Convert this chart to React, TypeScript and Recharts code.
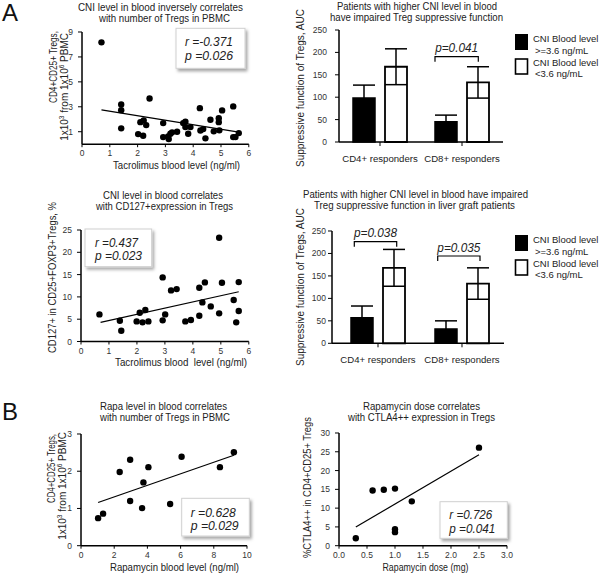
import React from "react";
import {
  ScatterChart,
  Scatter,
  BarChart,
  Bar,
  ErrorBar,
  XAxis,
  YAxis,
  ReferenceLine,
} from "recharts";

const FONT = '"Liberation Sans", Arial, Helvetica, sans-serif';

// A, top left: tacrolimus level vs Treg count
const tacroA1 = [0.7, 1.41, 1.41, 1.41, 2.43, 2.02, 2.1, 2.22, 2.31, 2.2, 2.92, 2.92, 3.1, 3.12, 3.18, 3.24, 3.42, 3.64, 3.72, 3.72, 3.9, 3.82, 4.24, 4.26, 4.36, 4.44, 4.62, 4.74, 4.92, 4.92, 4.94, 5.04, 5.44, 5.44, 5.52, 5.64];
const tregsA1 = [8.17, 3.19, 2.73, 1.27, 3.67, 0.81, 1.77, 1.91, 1.53, 0.68, 1.69, 0.57, 0.63, 0.41, 0.84, 0.95, 1.0, 1.69, 1.8, 1.37, 1.37, 0.84, 2.89, 1.1, 1.21, 0.47, 1.96, 1.03, 2.09, 1.77, 1.11, 2.71, 3.03, 0.57, 0.57, 0.89];
const trendA1 = [[0.7, 2.76], [5.64, 0.97]];

// A, middle left: tacrolimus level vs CD127+
const tacroA2 = [0.66, 1.39, 1.44, 1.99, 2.1, 2.2, 2.3, 2.41, 2.92, 2.92, 3.01, 3.22, 3.42, 3.73, 3.93, 4.23, 4.23, 4.34, 4.43, 4.64, 4.94, 4.94, 5.04, 5.46, 5.55, 5.64, 5.64];
const cd127A2 = [6.08, 4.66, 2.42, 4.51, 6.46, 4.29, 7.05, 4.51, 14.37, 4.74, 6.08, 11.46, 11.75, 4.51, 4.81, 12.05, 5.78, 8.77, 13.25, 7.87, 23.25, 6.31, 13.17, 9.29, 4.29, 13.32, 6.83];
const trendA2 = [[0.7, 4.29], [5.64, 11.16]];

// A, bar charts
const responders = ["CD4+ responders", "CD8+ responders"];
const highCni1 = [98, 45];
const highCniErr1 = [29, 15];
const lowCni1 = [168, 133];
const lowCniErr1 = [40, 35];
const highCni2 = [57, 32];
const highCniErr2 = [26, 18];
const lowCni2 = [168, 133];
const lowCniErr2 = [41, 35];

// B, left: rapamycin level vs Treg count
const rapaLevelB1 = [1.03, 1.33, 2.33, 2.96, 2.96, 3.68, 3.76, 4.06, 5.37, 6.06, 8.37, 9.21];
const tregsB1 = [0.74, 0.86, 1.98, 2.31, 1.2, 1.01, 1.7, 2.11, 1.12, 2.39, 2.11, 2.51];
const trendB1 = [[1.03, 1.16], [9.21, 2.43]];

// B, right: rapamycin dose vs CTLA4++
const rapaDoseB2 = [0.3, 0.6, 0.8, 1.0, 1.0, 1.0, 1.3, 2.5];
const ctla4B2 = [2.0, 14.7, 14.9, 15.2, 4.4, 3.6, 11.8, 26.1];
const trendB2 = [[0.3, 4.97], [2.5, 24.2]];

const zip = (xs: number[], ys: number[]) => xs.map((x, i) => ({ x, y: ys[i] }));

const barRows = (hi: number[], hiE: number[], lo: number[], loE: number[]) =>
  responders.map((name, i) => ({ name, high: hi[i], highErr: hiE[i], low: lo[i], lowErr: loE[i] }));

const Dot = (props: any) => <circle cx={props.cx} cy={props.cy} r={3.2} fill="#000" />;

const tickStyle = { fill: "#333", fontSize: 8.5 };

function ScatterPanel(props: any) {
  const { left, top, width, height, xDomain, xTicks, yDomain, yTicks, points, trend, xFmt } = props;
  const ML = 34, MT = 6, MR = 8, MB = 22;
  return (
    <div style={{ position: "absolute", left: left - ML, top: top - MT }}>
      <ScatterChart
        width={ML + width + MR}
        height={MT + height + MB}
        margin={{ top: MT, right: MR, left: 0, bottom: 0 }}
      >
        <XAxis
          type="number"
          dataKey="x"
          domain={xDomain}
          ticks={xTicks}
          height={MB}
          interval={0}
          tickFormatter={xFmt}
          tickSize={3}
          tickMargin={3}
          tick={tickStyle}
          axisLine={{ stroke: "#000", strokeWidth: 1.5 }}
          tickLine={{ stroke: "#000" }}
        />
        <YAxis
          type="number"
          dataKey="y"
          domain={yDomain}
          ticks={yTicks}
          width={ML}
          interval={0}
          tickSize={4}
          tickMargin={5}
          tick={tickStyle}
          axisLine={{ stroke: "#000", strokeWidth: 1.5 }}
          tickLine={{ stroke: "#000" }}
        />
        <ReferenceLine
          segment={[
            { x: trend[0][0], y: trend[0][1] },
            { x: trend[1][0], y: trend[1][1] },
          ]}
          stroke="#000"
          strokeWidth={1.2}
        />
        <Scatter data={points} shape={Dot} isAnimationActive={false} />
      </ScatterChart>
    </div>
  );
}

function BarPanel(props: any) {
  const { left, top, width, height, rows, padLeft, yTickMargin } = props;
  const ML = 40, MT = 6, MR = 4, MB = 30;
  return (
    <div style={{ position: "absolute", left: left - ML, top: top - MT }}>
      <BarChart
        width={ML + width + MR}
        height={MT + height + MB}
        data={rows}
        margin={{ top: MT, right: MR, left: 0, bottom: 0 }}
        barSize={22}
        barGap={10}
      >
        <XAxis
          dataKey="name"
          height={MB}
          interval={0}
          padding={{ left: padLeft, right: 0 }}
          tickSize={4}
          tickMargin={9}
          tick={{ fill: "#222", fontSize: 9.6 }}
          axisLine={{ stroke: "#000", strokeWidth: 1.5 }}
          tickLine={{ stroke: "#000" }}
        />
        <YAxis
          domain={[0, 250]}
          ticks={[0, 50, 100, 150, 200, 250]}
          width={ML}
          interval={0}
          tickSize={4}
          tickMargin={yTickMargin}
          tick={tickStyle}
          axisLine={{ stroke: "#000", strokeWidth: 1.5 }}
          tickLine={{ stroke: "#000" }}
        />
        <Bar dataKey="high" fill="#000" stroke="#000" strokeWidth={1.5} isAnimationActive={false}>
          <ErrorBar dataKey="highErr" width={11} stroke="#000" strokeWidth={1.5} direction="y" />
        </Bar>
        <Bar dataKey="low" fill="#fff" stroke="#000" strokeWidth={1.8} isAnimationActive={false}>
          <ErrorBar dataKey="lowErr" width={11} stroke="#000" strokeWidth={1.5} direction="y" />
        </Bar>
      </BarChart>
    </div>
  );
}

// text with a fixed drawn width, so the reference's narrow lettering is kept
const T = ({ w, ...p }: any) => (
  <text
    fontSize={11}
    fill="#222"
    textAnchor="middle"
    textLength={w}
    lengthAdjust={w ? "spacingAndGlyphs" : undefined}
    {...p}
  />
);

function StatBox({ x, y, w, h, tx, y1, y2, r, p, rw, pw }: any) {
  return (
    <g>
      <rect x={x} y={y} width={w} height={h} fill="#fff" stroke="#d0d0d0" filter="url(#shadow)" />
      <T x={tx} y={y1} fontSize={13.5} fontStyle="italic" textAnchor="start" w={rw}>{r}</T>
      <T x={tx} y={y2} fontSize={13.5} fontStyle="italic" textAnchor="start" w={pw}>{p}</T>
    </g>
  );
}

function Bracket({ x1, x2, y, label, ty }: any) {
  return (
    <g>
      <path d={`M${x1},${y + 5} V${y} H${x2} V${y + 5}`} fill="none" stroke="#000" strokeWidth={1.2} />
      <T x={(x1 + x2) / 2} y={ty} fontSize={13} fontStyle="italic" w={43}>{label}</T>
    </g>
  );
}

function LegendBlock({ y }: any) {
  return (
    <g>
      <rect x={515} y={y} width={13} height={16} fill="#000" />
      <T x={533} y={y + 8} fontSize={9.5} textAnchor="start">CNI Blood level</T>
      <T x={535} y={y + 20} fontSize={9.5} textAnchor="start">&gt;=3.6 ng/mL</T>
      <rect x={515.5} y={y + 25} width={12} height={15} fill="#fff" stroke="#000" strokeWidth={1.6} />
      <T x={533} y={y + 32} fontSize={9.5} textAnchor="start">CNI Blood level</T>
      <T x={535} y={y + 43} fontSize={9.5} textAnchor="start">&lt;3.6 ng/mL</T>
    </g>
  );
}

const SupLabel = () => (
  <>
    1x10<tspan fontSize={6.5} dy={-4}>3</tspan>
    <tspan dy={4}> from 1x10</tspan>
    <tspan fontSize={6.5} dy={-4}>6</tspan>
    <tspan dy={4}> PBMC</tspan>
  </>
);

export default function App() {
  return (
    <div
      style={{
        position: "absolute",
        left: 0,
        top: 0,
        width: 600,
        height: 574,
        background: "#fff",
        fontFamily: FONT,
        overflow: "hidden",
      }}
    >
      <ScatterPanel
        left={81.5}
        top={32.3}
        width={166.8}
        height={112.2}
        xDomain={[0, 6]}
        xTicks={[0, 1, 2, 3, 4, 5, 6]}
        yDomain={[0, 9]}
        yTicks={[1, 3, 5, 7, 9]}
        points={zip(tacroA1, tregsA1)}
        trend={trendA1}
      />
      <ScatterPanel
        left={80.5}
        top={230}
        width={167.8}
        height={111.5}
        xDomain={[0, 6]}
        xTicks={[0, 1, 2, 3, 4, 5, 6]}
        yDomain={[0, 25]}
        yTicks={[0, 5, 10, 15, 20, 25]}
        points={zip(tacroA2, cd127A2)}
        trend={trendA2}
      />
      <ScatterPanel
        left={81}
        top={434.3}
        width={166}
        height={111.7}
        xDomain={[0, 10]}
        xTicks={[0, 2, 4, 6, 8, 10]}
        yDomain={[0, 3]}
        yTicks={[0, 1, 2, 3]}
        points={zip(rapaLevelB1, tregsB1)}
        trend={trendB1}
      />
      <ScatterPanel
        left={339.3}
        top={433.3}
        width={168}
        height={112.7}
        xDomain={[0, 3]}
        xTicks={[0, 0.5, 1, 1.5, 2, 2.5, 3]}
        xFmt={(v: number) => v.toFixed(1)}
        yDomain={[0, 30]}
        yTicks={[0, 5, 10, 15, 20, 25, 30]}
        points={zip(rapaDoseB2, ctla4B2)}
        trend={trendB2}
      />
      <BarPanel
        left={339}
        top={30}
        width={164}
        height={112}
        rows={barRows(highCni1, highCniErr1, lowCni1, lowCniErr1)}
        padLeft={0}
        yTickMargin={8}
      />
      <BarPanel
        left={332}
        top={231}
        width={172}
        height={112.3}
        rows={barRows(highCni2, highCniErr2, lowCni2, lowCniErr2)}
        padLeft={4}
        yTickMargin={2}
      />

      <svg
        width={600}
        height={574}
        style={{ position: "absolute", left: 0, top: 0, pointerEvents: "none", fontFamily: FONT }}
      >
        <defs>
          <filter id="shadow" x="-10%" y="-10%" width="130%" height="140%">
            <feDropShadow dx="2" dy="2.5" stdDeviation="1.5" floodColor="#000" floodOpacity="0.35" />
          </filter>
        </defs>

        <text x={2} y={21} fontSize={24} fill="#111">A</text>
        <text x={2} y={420} fontSize={24} fill="#111">B</text>

        {/* titles */}
        <T x={160.5} y={11} w={165}>CNI level in blood inversely correlates</T>
        <T x={164.5} y={22} w={131}>with number of Tregs in PBMC</T>
        <T x={417} y={10} w={160}>Patients with higher CNI level in blood</T>
        <T x={416.5} y={21} w={173}>have impaired Treg suppressive function</T>
        <T x={163} y={199} w={120}>CNI level in blood correlates</T>
        <T x={164.5} y={210} w={137}>with CD127+expression in Tregs</T>
        <T x={415.5} y={198} w={225}>Patients with higher CNI level in blood have impaired</T>
        <T x={414.5} y={209} w={201}>Treg suppressive function in liver graft patients</T>
        <T x={163.5} y={410} w={127}>Rapa level in blood correlates</T>
        <T x={165} y={421} w={130}>with number of Tregs in PBMC</T>
        <T x={421.5} y={410} w={117}>Rapamycin dose correlates</T>
        <T x={421.5} y={421} w={147}>with CTLA4++ expression in Tregs</T>

        {/* x axis labels */}
        <T x={176.5} y={169} w={127}>Tacrolimus blood level (ng/ml)</T>
        <T x={181} y={366} w={132} style={{ whiteSpace: "pre" }}>Tacrolimus blood  level (ng/ml)</T>
        <T x={174.5} y={571} w={129}>Rapamycin blood level (ng/ml)</T>
        <T x={425.5} y={571} w={86}>Rapamycin dose (mg)</T>

        {/* y axis labels */}
        <T transform="translate(57,31) rotate(-90)" textAnchor="end" fontSize={10} w={72}>CD4+CD25+ Tregs,</T>
        <T transform="translate(68,33) rotate(-90)" textAnchor="end" fontSize={10}><SupLabel /></T>
        <T transform="translate(56,277.5) rotate(-90)" w={151}>CD127+ in CD25+FOXP3+Tregs, %</T>
        <T transform="translate(55,434) rotate(-90)" textAnchor="end" fontSize={10} w={69}>CD4+CD25+ Tregs,</T>
        <T transform="translate(66,432) rotate(-90)" textAnchor="end" fontSize={10}><SupLabel /></T>
        <T transform="translate(311,487.5) rotate(-90)" w={141}>%CTLA4++ in CD4+CD25+ Tregs</T>
        <T transform="translate(304,88) rotate(-90)" fontSize={10.5} w={158}>Suppressive function of Tregs, AUC</T>
        <T transform="translate(304,287) rotate(-90)" fontSize={10.5} w={158}>Suppressive function of Tregs, AUC</T>

        {/* correlation boxes */}
        <StatBox x={176} y={28.3} w={69} h={40} tx={185} y1={46} y2={60} rw={48} pw={48} r="r =-0.371" p="p =0.026" />
        <StatBox x={85} y={229} w={66.7} h={37.7} tx={95} y1={246.5} y2={260} rw={43} pw={47} r="r =0.437" p="p =0.023" />
        <StatBox x={181.7} y={498.3} w={67.6} h={37.7} tx={190.7} y1={516.5} y2={530} rw={45} pw={48} r="r =0.628" p="p =0.029" />
        <StatBox x={440} y={501.7} w={67.3} h={36.6} tx={449.3} y1={519} y2={532.5} rw={43} pw={46} r="r =0.726" p="p =0.041" />

        {/* significance brackets */}
        <Bracket x1={435} x2={478.3} y={56.7} ty={52} label="p=0.041" />
        <Bracket x1={354.3} x2={396.7} y={241.7} ty={237} label="p=0.038" />
        <Bracket x1={437.7} x2={480} y={256} ty={251.7} label="p=0.035" />

        <LegendBlock y={34} />
        <LegendBlock y={235} />
      </svg>
    </div>
  );
}
